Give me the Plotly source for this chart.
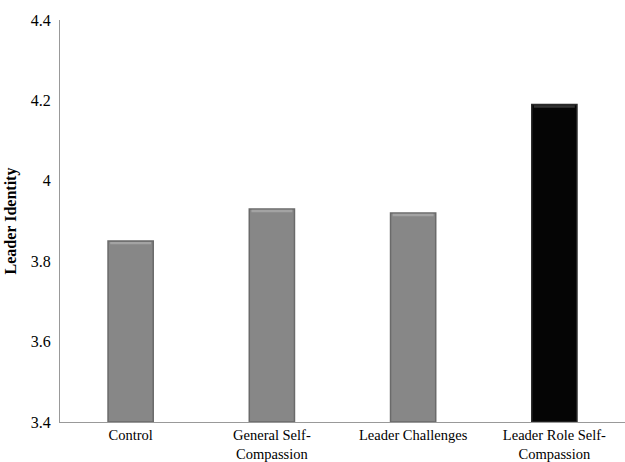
import plotly.graph_objects as go

categories = ["Control", "General Self-<br>Compassion", "Leader Challenges", "Leader Role Self-<br>Compassion"]
leader_identity = [3.85, 3.93, 3.92, 4.19]
bar_colors = ["#878787", "#878787", "#878787", "#050505"]
edge_colors = ["#6a6a6a", "#6a6a6a", "#6a6a6a", "#2a2a2a"]
top_colors = ["#a3a3a3", "#a3a3a3", "#a3a3a3", "#333333"]
y_ticks = [3.4, 3.6, 3.8, 4.0, 4.2, 4.4]
y_tick_text = ["3.4", "3.6", "3.8", "4", "4.2", "4.4"]
axis_floor = 3.4
bevel = 0.006

fig = go.Figure()
fig.add_trace(go.Bar(
    x=categories,
    y=[v - axis_floor for v in leader_identity],
    base=axis_floor,
    width=0.32,
    marker=dict(color=bar_colors, line=dict(color=edge_colors, width=1.5)),
    hoverinfo="skip",
))
# lighter bevel strip along the top of each bar
fig.add_trace(go.Bar(
    x=categories,
    y=[bevel] * len(leader_identity),
    base=[v - bevel - 0.002 for v in leader_identity],
    width=0.29,
    marker=dict(color=top_colors, line=dict(width=0)),
    hoverinfo="skip",
))

serif = "Liberation Serif"
fig.update_layout(
    width=625, height=462,
    margin=dict(l=60, r=0, t=20, b=40),
    paper_bgcolor="white", plot_bgcolor="white",
    showlegend=False,
    barmode="overlay",
    font=dict(family=serif, size=14, color="black"),
    xaxis=dict(
        showgrid=False, showline=True, linecolor="#999999", linewidth=1,
        ticks="", tickfont=dict(size=14.5, family=serif, color="black"),
        range=[-0.5, 3.5],
    ),
    yaxis=dict(
        range=[3.4, 4.4], tickvals=y_ticks, ticktext=y_tick_text,
        showgrid=False, showline=True, linecolor="#999999", linewidth=1,
        ticks="", tickfont=dict(size=16, family=serif, color="black"),
        ticklabelstandoff=5,
        title=dict(text="<b>Leader Identity</b>", font=dict(size=16, family=serif), standoff=10),
        zeroline=False,
    ),
)

fig.write_html("out.html")
